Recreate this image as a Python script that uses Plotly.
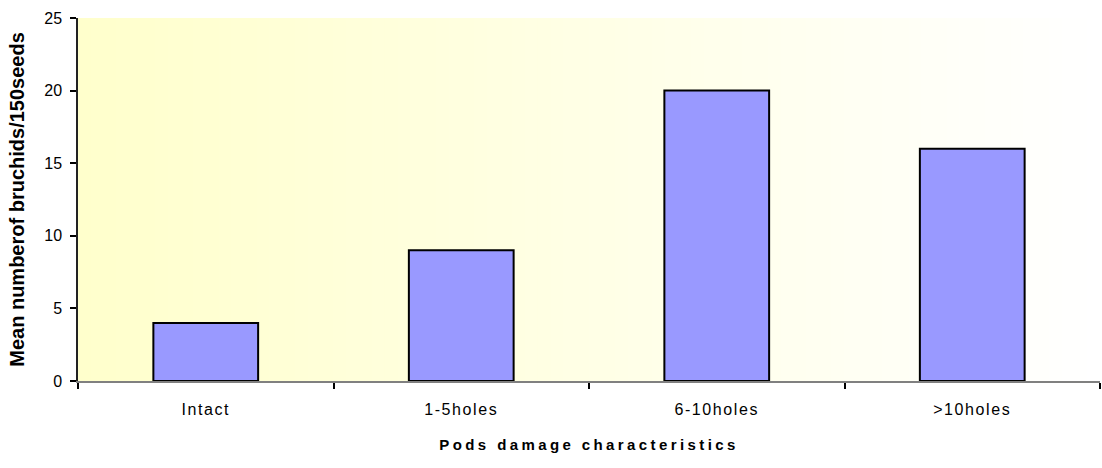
import plotly.graph_objects as go

# Pod damage classes and mean bruchid counts per 150 seeds
categories = ["Intact", "1-5holes", "6-10holes", ">10holes"]
mean_bruchids = [4, 9, 20, 16]
y_ticks = [0, 5, 10, 15, 20, 25]

FONT = "Liberation Sans, Arial, sans-serif"

fig = go.Figure()
fig.add_trace(go.Bar(
    x=categories,
    y=mean_bruchids,
    marker=dict(color="#9999FF", line=dict(color="#000000", width=2)),
    width=0.41,
    hoverinfo="x+y",
))

# Horizontal pale-yellow to white fill behind the plotting area
n_strips = 80
start = (255, 255, 204)
end = (255, 255, 255)
shapes = []
for i in range(n_strips):
    t = i / (n_strips - 1)
    r = round(start[0] + (end[0] - start[0]) * t)
    g = round(start[1] + (end[1] - start[1]) * t)
    b = round(start[2] + (end[2] - start[2]) * t)
    shapes.append(dict(
        type="rect", xref="paper", yref="paper", layer="below",
        x0=i / n_strips, x1=(i + 1.5) / n_strips if i < n_strips - 1 else 1.0,
        y0=0, y1=1,
        fillcolor=f"rgb({r},{g},{b})", line=dict(width=0),
    ))

fig.update_layout(
    width=1102,
    height=468,
    margin=dict(l=78, r=2, t=18, b=87),
    paper_bgcolor="white",
    plot_bgcolor="rgba(0,0,0,0)",
    showlegend=False,
    shapes=shapes,
    font=dict(family=FONT, color="#000000"),
    xaxis=dict(
        type="category",
        tickmode="array",
        tickvals=categories,
        ticktext=[f'<span style="letter-spacing:1.6px">{c}</span>' for c in categories],
        tickson="boundaries",
        ticks="outside",
        ticklen=6,
        tickwidth=1.5,
        tickcolor="#000000",
        ticklabelstandoff=13,
        showline=True,
        linecolor="#808080",
        linewidth=2,
        showgrid=False,
        zeroline=False,
        tickfont=dict(size=16, family=FONT),
        title=dict(
            text='<b><span style="letter-spacing:3.4px">Pods damage characteristics</span></b>',
            font=dict(size=15, family=FONT),
            standoff=22,
        ),
    ),
    yaxis=dict(
        range=[0, 25],
        tickmode="array",
        tickvals=y_ticks,
        ticks="outside",
        ticklen=6,
        tickwidth=1.5,
        tickcolor="#000000",
        ticklabelstandoff=5,
        showline=True,
        linecolor="#222222",
        linewidth=1.5,
        showgrid=False,
        zeroline=False,
        tickfont=dict(size=16, family=FONT),
        title=dict(
            text="<b>Mean numberof bruchids/150seeds</b>",
            font=dict(size=20, family=FONT),
            standoff=14,
        ),
    ),
)

fig.write_html("out.html")
